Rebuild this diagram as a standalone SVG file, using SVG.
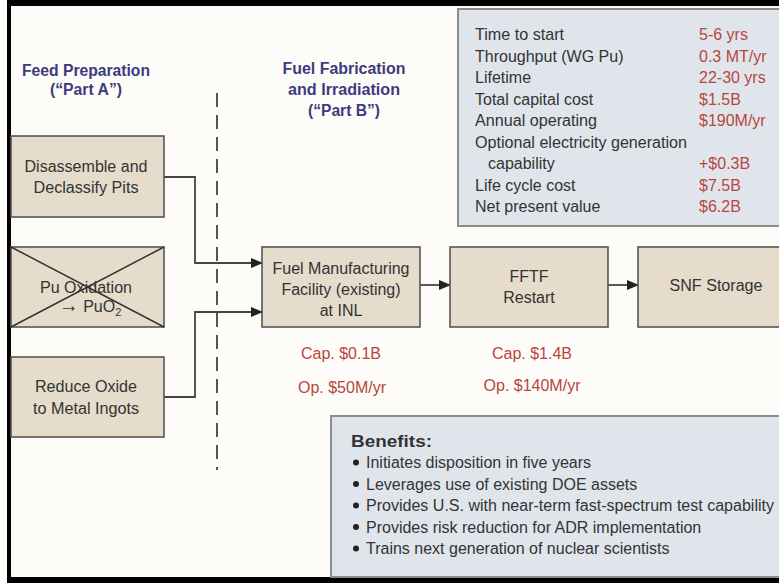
<svg xmlns="http://www.w3.org/2000/svg" width="779" height="583" viewBox="0 0 779 583">
<style>
  text { font-family: "Liberation Sans", Arial, sans-serif; fill: #333333; }
  .title { font-weight: bold; font-size: 16px; fill: #3d3b7e; text-anchor: middle; }
  .box { fill: #e6dccb; stroke: #555555; stroke-width: 1.6; }
  .info { fill: #e0e5ec; stroke: #8c8c8c; stroke-width: 2; }
  .bt { font-size: 16px; text-anchor: middle; }
  .it { font-size: 16px; }
  .val { font-size: 16px; fill: #b8453d; }
  .red { font-size: 16px; fill: #b8453d; text-anchor: middle; }
  .conn { fill: none; stroke: #444444; stroke-width: 1.8; }
</style>
<defs>
  <marker id="arr" markerUnits="userSpaceOnUse" markerWidth="12" markerHeight="10" refX="11" refY="5" orient="auto">
    <path d="M0,0 L12,5 L0,10 Z" fill="#222222"/>
  </marker>
</defs>
<rect x="0" y="0" width="779" height="583" fill="#fdfcf8"/>
<!-- frame -->
<rect x="7" y="0" width="772" height="6" fill="#000000"/>
<rect x="7" y="0" width="4" height="583" fill="#000000"/>
<rect x="7" y="577" width="772" height="6" fill="#000000"/>

<!-- section titles -->
<g id="title-a">
  <text class="title" x="86" y="76" textLength="128" lengthAdjust="spacingAndGlyphs">Feed Preparation</text>
  <text class="title" x="86" y="95" textLength="72" lengthAdjust="spacingAndGlyphs">(“Part A”)</text>
</g>
<g id="title-b">
  <text class="title" x="344" y="74" textLength="123" lengthAdjust="spacingAndGlyphs">Fuel Fabrication</text>
  <text class="title" x="344" y="95" textLength="112" lengthAdjust="spacingAndGlyphs">and Irradiation</text>
  <text class="title" x="344" y="116" textLength="72" lengthAdjust="spacingAndGlyphs">(“Part B”)</text>
</g>

<!-- dashed divider -->
<line x1="217" y1="93" x2="217" y2="470" stroke="#555555" stroke-width="2" stroke-dasharray="14 8"/>

<!-- connectors -->
<g id="connectors">
  <path class="conn" d="M164,177 H195 V263 H262" marker-end="url(#arr)"/>
  <path class="conn" d="M164,397 H195 V312 H262" marker-end="url(#arr)"/>
  <path class="conn" d="M420,285 H450" marker-end="url(#arr)"/>
  <path class="conn" d="M608,285 H638" marker-end="url(#arr)"/>
</g>

<!-- left nodes -->
<g id="disassemble">
  <rect class="box" x="11" y="136" width="153" height="81"/>
  <text class="bt" x="86" y="172" textLength="123" lengthAdjust="spacingAndGlyphs">Disassemble and</text>
  <text class="bt" x="86" y="193" textLength="105" lengthAdjust="spacingAndGlyphs">Declassify Pits</text>
</g>
<g id="pu-oxidation">
  <rect class="box" x="11" y="247" width="153" height="80"/>
  <text class="bt" x="86" y="293" textLength="92" lengthAdjust="spacingAndGlyphs">Pu Oxidation</text>
  <text class="bt" x="90" y="312"><tspan font-size="20">→</tspan> PuO<tspan font-size="11" dy="4">2</tspan></text>
  <line x1="11" y1="247" x2="164" y2="327" stroke="#333333" stroke-width="1.5"/>
  <line x1="11" y1="327" x2="164" y2="247" stroke="#333333" stroke-width="1.5"/>
</g>
<g id="reduce-oxide">
  <rect class="box" x="11" y="357" width="153" height="80"/>
  <text class="bt" x="86" y="392" textLength="102" lengthAdjust="spacingAndGlyphs">Reduce Oxide</text>
  <text class="bt" x="86" y="414" textLength="106" lengthAdjust="spacingAndGlyphs">to Metal Ingots</text>
</g>

<!-- main chain -->
<g id="fmf">
  <rect class="box" x="262" y="247" width="158" height="80"/>
  <text class="bt" x="341" y="274" textLength="137" lengthAdjust="spacingAndGlyphs">Fuel Manufacturing</text>
  <text class="bt" x="341" y="295">Facility (existing)</text>
  <text class="bt" x="341" y="316">at INL</text>
</g>
<g id="fftf">
  <rect class="box" x="450" y="247" width="158" height="80"/>
  <text class="bt" x="529" y="282">FFTF</text>
  <text class="bt" x="529" y="303">Restart</text>
</g>
<g id="snf">
  <rect class="box" x="638" y="247" width="160" height="80"/>
  <text class="bt" x="716" y="291" textLength="93" lengthAdjust="spacingAndGlyphs">SNF Storage</text>
</g>

<!-- cost labels -->
<g id="fmf-costs">
  <text class="red" x="341" y="359">Cap. $0.1B</text>
  <text class="red" x="342" y="393">Op. $50M/yr</text>
</g>
<g id="fftf-costs">
  <text class="red" x="532" y="359">Cap. $1.4B</text>
  <text class="red" x="532" y="391">Op. $140M/yr</text>
</g>

<!-- summary box -->
<g id="summary">
  <rect class="info" x="458" y="9" width="340" height="217"/>
  <text class="it" x="475" y="40" textLength="89" lengthAdjust="spacingAndGlyphs">Time to start</text>
  <text class="it" x="475" y="61.5">Throughput (WG Pu)</text>
  <text class="it" x="475" y="83">Lifetime</text>
  <text class="it" x="475" y="104.5">Total capital cost</text>
  <text class="it" x="475" y="126" textLength="122" lengthAdjust="spacingAndGlyphs">Annual operating</text>
  <text class="it" x="475" y="147.5" textLength="212" lengthAdjust="spacingAndGlyphs">Optional electricity generation</text>
  <text class="it" x="488" y="169">capability</text>
  <text class="it" x="475" y="190.5">Life cycle cost</text>
  <text class="it" x="475" y="212">Net present value</text>
  <text class="val" x="699" y="40">5-6 yrs</text>
  <text class="val" x="699" y="61.5">0.3 MT/yr</text>
  <text class="val" x="699" y="83">22-30 yrs</text>
  <text class="val" x="699" y="104.5">$1.5B</text>
  <text class="val" x="699" y="126">$190M/yr</text>
  <text class="val" x="699" y="169">+$0.3B</text>
  <text class="val" x="699" y="190.5">$7.5B</text>
  <text class="val" x="699" y="212">$6.2B</text>
</g>

<!-- benefits box -->
<g id="benefits">
  <rect class="info" x="331" y="416" width="470" height="161"/>
  <text x="351" y="447" font-size="17" font-weight="bold" fill="#222222" textLength="81" lengthAdjust="spacingAndGlyphs">Benefits:</text>
  <g fill="#222222">
    <circle cx="356" cy="462.5" r="3"/>
    <circle cx="356" cy="484" r="3"/>
    <circle cx="356" cy="505.5" r="3"/>
    <circle cx="356" cy="527" r="3"/>
    <circle cx="356" cy="548.5" r="3"/>
  </g>
  <text class="it" x="366" y="468" textLength="225" lengthAdjust="spacingAndGlyphs">Initiates disposition in five years</text>
  <text class="it" x="366" y="489.5">Leverages use of existing DOE assets</text>
  <text class="it" x="366" y="511" textLength="408" lengthAdjust="spacingAndGlyphs">Provides U.S. with near-term fast-spectrum test capability</text>
  <text class="it" x="366" y="532.5">Provides risk reduction for ADR implementation</text>
  <text class="it" x="366" y="554">Trains next generation of nuclear scientists</text>
</g>
</svg>
